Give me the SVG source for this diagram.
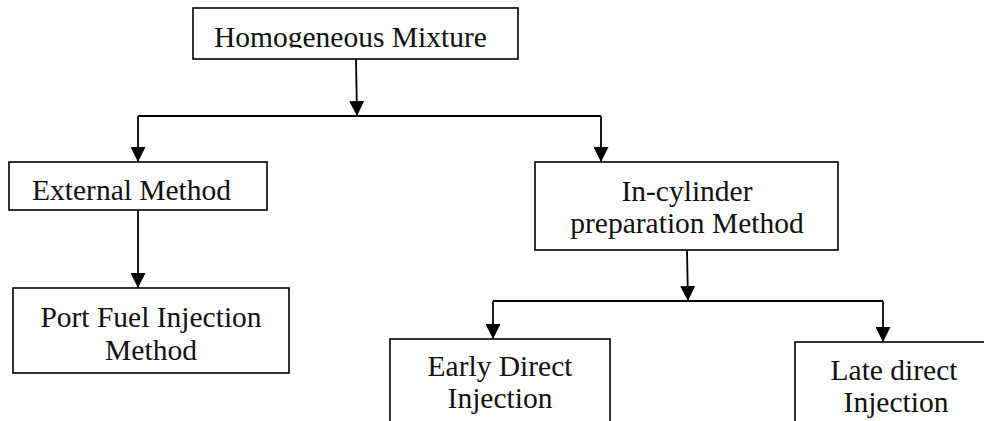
<svg xmlns="http://www.w3.org/2000/svg" width="984" height="421" viewBox="0 0 984 421">
  <style>
    .box { fill: #ffffff; stroke: #000000; stroke-width: 1.6; }
    .lbl { font-family: "Liberation Serif", "Times New Roman", serif; font-size: 29.5px; fill: #111111; }
    .mid { text-anchor: middle; }
    .conn { fill: none; stroke: #000000; stroke-width: 1.8; }
  </style>
  <defs>
    <marker id="arr" viewBox="0 0 15 15" refX="15" refY="7.5" markerWidth="15" markerHeight="15" markerUnits="userSpaceOnUse" orient="auto">
      <path d="M0,0 L15,7.5 L0,15 z" fill="#000000"/>
    </marker>
    <clipPath id="clipTop"><rect x="193" y="8" width="325" height="40"/></clipPath>
    <clipPath id="clipExt"><rect x="9" y="162" width="258" height="38"/></clipPath>
  </defs>
  <rect width="984" height="421" fill="#ffffff"/>

  <g id="connectors">
    <path class="conn" d="M356,59 L357,116" marker-end="url(#arr)"/>
    <path class="conn" d="M138,116 L601,116"/>
    <path class="conn" d="M138,116 L138,162" marker-end="url(#arr)"/>
    <path class="conn" d="M601,116 L601,162" marker-end="url(#arr)"/>
    <path class="conn" d="M138,210 L138,288" marker-end="url(#arr)"/>
    <path class="conn" d="M687,250 L688,301" marker-end="url(#arr)"/>
    <path class="conn" d="M493,301 L883,301"/>
    <path class="conn" d="M493,301 L493,339" marker-end="url(#arr)"/>
    <path class="conn" d="M883,301 L883,342" marker-end="url(#arr)"/>
  </g>

  <g id="homogeneous">
    <rect class="box" x="193" y="8" width="325" height="51"/>
    <text class="lbl" x="214" y="47" clip-path="url(#clipTop)">Homogeneous Mixture</text>
  </g>

  <g id="external">
    <rect class="box" x="9" y="162" width="258" height="48"/>
    <text class="lbl" x="32" y="200" clip-path="url(#clipExt)">External Method</text>
  </g>

  <g id="incylinder">
    <rect class="box" x="535" y="162" width="303" height="88"/>
    <text class="lbl mid" x="687" y="201">In-cylinder</text>
    <text class="lbl mid" x="687" y="233">preparation Method</text>
  </g>

  <g id="portfuel">
    <rect class="box" x="13" y="288" width="276" height="85"/>
    <text class="lbl mid" x="151" y="327">Port Fuel Injection</text>
    <text class="lbl mid" x="151" y="360">Method</text>
  </g>

  <g id="early">
    <rect class="box" x="390" y="339" width="220" height="100"/>
    <text class="lbl mid" x="500" y="376">Early Direct</text>
    <text class="lbl mid" x="500" y="408">Injection</text>
  </g>

  <g id="late">
    <rect class="box" x="795" y="342" width="200" height="100"/>
    <text class="lbl mid" x="894" y="380">Late direct</text>
    <text class="lbl mid" x="896" y="412">Injection</text>
  </g>
</svg>
